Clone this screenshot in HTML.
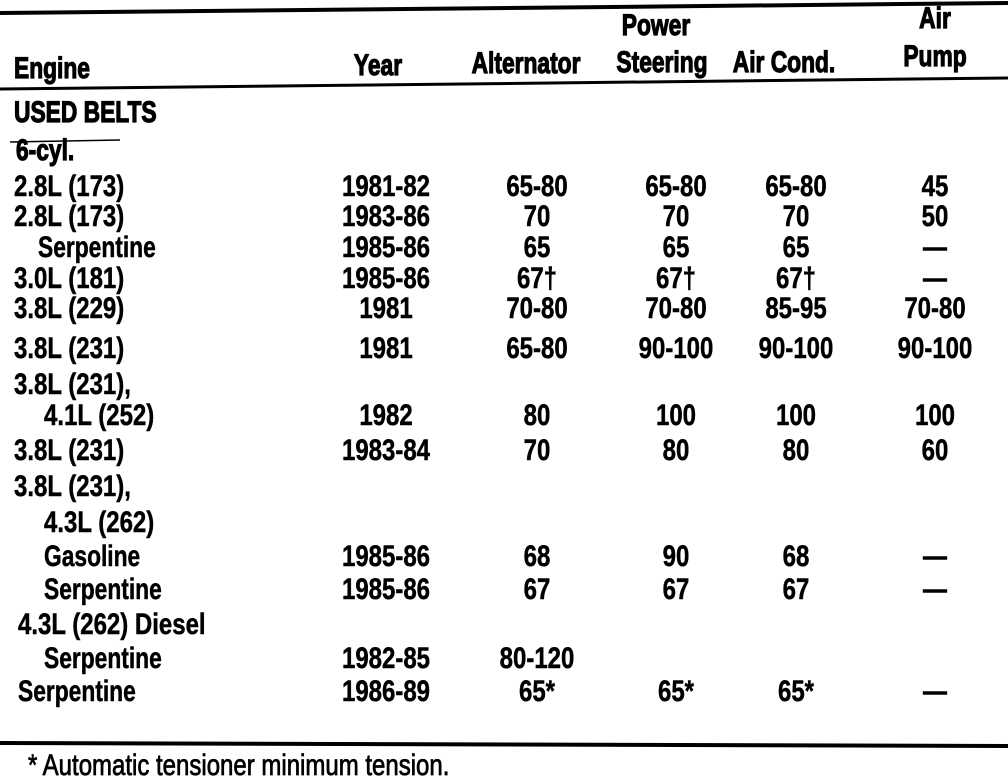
<!DOCTYPE html>
<html><head><meta charset="utf-8"><style>
html,body{margin:0;padding:0;background:#fff;}
svg{display:block;}
text{font-family:"Liberation Sans",sans-serif;font-weight:bold;fill:#000;font-size:30px;stroke:#000;stroke-width:0.5px;}
.hd text{stroke-width:1.2px;}
</style></head><body>
<svg width="1008" height="778" viewBox="0 0 1008 778" xmlns="http://www.w3.org/2000/svg">
<g stroke="#000" fill="none">
<line x1="0" y1="13" x2="1008" y2="3" stroke-width="4"/>
<line x1="0" y1="89" x2="1008" y2="78" stroke-width="3"/>
<line x1="0" y1="743" x2="1008" y2="746" stroke-width="4"/>
<line x1="10" y1="142" x2="120" y2="140" stroke-width="1.5"/>
</g>
<g class="hd">
<text transform="translate(14,78) scale(0.76,1)">Engine</text>
<text transform="translate(378,75) scale(0.76,1)" text-anchor="middle">Year</text>
<text transform="translate(526,73) scale(0.76,1)" text-anchor="middle">Alternator</text>
<text transform="translate(656,35) scale(0.76,1)" text-anchor="middle">Power</text>
<text transform="translate(662,72) scale(0.76,1)" text-anchor="middle">Steering</text>
<text transform="translate(784,72) scale(0.76,1)" text-anchor="middle">Air Cond.</text>
<text transform="translate(935,28) scale(0.76,1)" text-anchor="middle">Air</text>
<text transform="translate(935,66) scale(0.76,1)" text-anchor="middle">Pump</text>
<text transform="translate(14,122) scale(0.76,1)">USED BELTS</text>
<text transform="translate(16,160) scale(0.76,1)">6-cyl.</text>
</g>
<g>
<text transform="translate(14,196) scale(0.8,1)">2.8L (173)</text>
<text transform="translate(14,226) scale(0.8,1)">2.8L (173)</text>
<text transform="translate(38,257) scale(0.76,1)">Serpentine</text>
<text transform="translate(14,288) scale(0.8,1)">3.0L (181)</text>
<text transform="translate(14,318) scale(0.8,1)">3.8L (229)</text>
<text transform="translate(14,358) scale(0.8,1)">3.8L (231)</text>
<text transform="translate(14,394) scale(0.8,1)">3.8L (231),</text>
<text transform="translate(44,425) scale(0.8,1)">4.1L (252)</text>
<text transform="translate(14,460) scale(0.8,1)">3.8L (231)</text>
<text transform="translate(14,496) scale(0.8,1)">3.8L (231),</text>
<text transform="translate(44,532) scale(0.8,1)">4.3L (262)</text>
<text transform="translate(44,566) scale(0.76,1)">Gasoline</text>
<text transform="translate(44,599) scale(0.76,1)">Serpentine</text>
<text transform="translate(18,634) scale(0.8,1)">4.3L (262) Diesel</text>
<text transform="translate(44,668) scale(0.76,1)">Serpentine</text>
<text transform="translate(18,701) scale(0.76,1)">Serpentine</text>
</g>
<g text-anchor="middle">
<text transform="translate(386,196) scale(0.8,1)">1981-82</text>
<text transform="translate(386,226) scale(0.8,1)">1983-86</text>
<text transform="translate(386,257) scale(0.8,1)">1985-86</text>
<text transform="translate(386,288) scale(0.8,1)">1985-86</text>
<text transform="translate(386,318) scale(0.8,1)">1981</text>
<text transform="translate(386,358) scale(0.8,1)">1981</text>
<text transform="translate(386,425) scale(0.8,1)">1982</text>
<text transform="translate(386,460) scale(0.8,1)">1983-84</text>
<text transform="translate(386,566) scale(0.8,1)">1985-86</text>
<text transform="translate(386,599) scale(0.8,1)">1985-86</text>
<text transform="translate(386,668) scale(0.8,1)">1982-85</text>
<text transform="translate(386,701) scale(0.8,1)">1986-89</text>
<text transform="translate(537,196) scale(0.8,1)">65-80</text>
<text transform="translate(537,226) scale(0.8,1)">70</text>
<text transform="translate(537,257) scale(0.8,1)">65</text>
<text transform="translate(537,288) scale(0.8,1)">67†</text>
<text transform="translate(537,318) scale(0.8,1)">70-80</text>
<text transform="translate(537,358) scale(0.8,1)">65-80</text>
<text transform="translate(537,425) scale(0.8,1)">80</text>
<text transform="translate(537,460) scale(0.8,1)">70</text>
<text transform="translate(537,566) scale(0.8,1)">68</text>
<text transform="translate(537,599) scale(0.8,1)">67</text>
<text transform="translate(537,668) scale(0.8,1)">80-120</text>
<text transform="translate(537,701) scale(0.8,1)">65*</text>
<text transform="translate(676,196) scale(0.8,1)">65-80</text>
<text transform="translate(676,226) scale(0.8,1)">70</text>
<text transform="translate(676,257) scale(0.8,1)">65</text>
<text transform="translate(676,288) scale(0.8,1)">67†</text>
<text transform="translate(676,318) scale(0.8,1)">70-80</text>
<text transform="translate(676,358) scale(0.8,1)">90-100</text>
<text transform="translate(676,425) scale(0.8,1)">100</text>
<text transform="translate(676,460) scale(0.8,1)">80</text>
<text transform="translate(676,566) scale(0.8,1)">90</text>
<text transform="translate(676,599) scale(0.8,1)">67</text>
<text transform="translate(676,701) scale(0.8,1)">65*</text>
<text transform="translate(796,196) scale(0.8,1)">65-80</text>
<text transform="translate(796,226) scale(0.8,1)">70</text>
<text transform="translate(796,257) scale(0.8,1)">65</text>
<text transform="translate(796,288) scale(0.8,1)">67†</text>
<text transform="translate(796,318) scale(0.8,1)">85-95</text>
<text transform="translate(796,358) scale(0.8,1)">90-100</text>
<text transform="translate(796,425) scale(0.8,1)">100</text>
<text transform="translate(796,460) scale(0.8,1)">80</text>
<text transform="translate(796,566) scale(0.8,1)">68</text>
<text transform="translate(796,599) scale(0.8,1)">67</text>
<text transform="translate(796,701) scale(0.8,1)">65*</text>
<text transform="translate(935,196) scale(0.8,1)">45</text>
<text transform="translate(935,226) scale(0.8,1)">50</text>
<text transform="translate(935,257) scale(0.8,1)">—</text>
<text transform="translate(935,288) scale(0.8,1)">—</text>
<text transform="translate(935,318) scale(0.8,1)">70-80</text>
<text transform="translate(935,358) scale(0.8,1)">90-100</text>
<text transform="translate(935,425) scale(0.8,1)">100</text>
<text transform="translate(935,460) scale(0.8,1)">60</text>
<text transform="translate(935,566) scale(0.8,1)">—</text>
<text transform="translate(935,599) scale(0.8,1)">—</text>
<text transform="translate(935,701) scale(0.8,1)">—</text>
</g>
<text transform="translate(28,775) scale(0.8,1)" style="font-weight:normal;stroke-width:0.8px">*  Automatic tensioner minimum tension.</text>
</svg>
</body></html>
